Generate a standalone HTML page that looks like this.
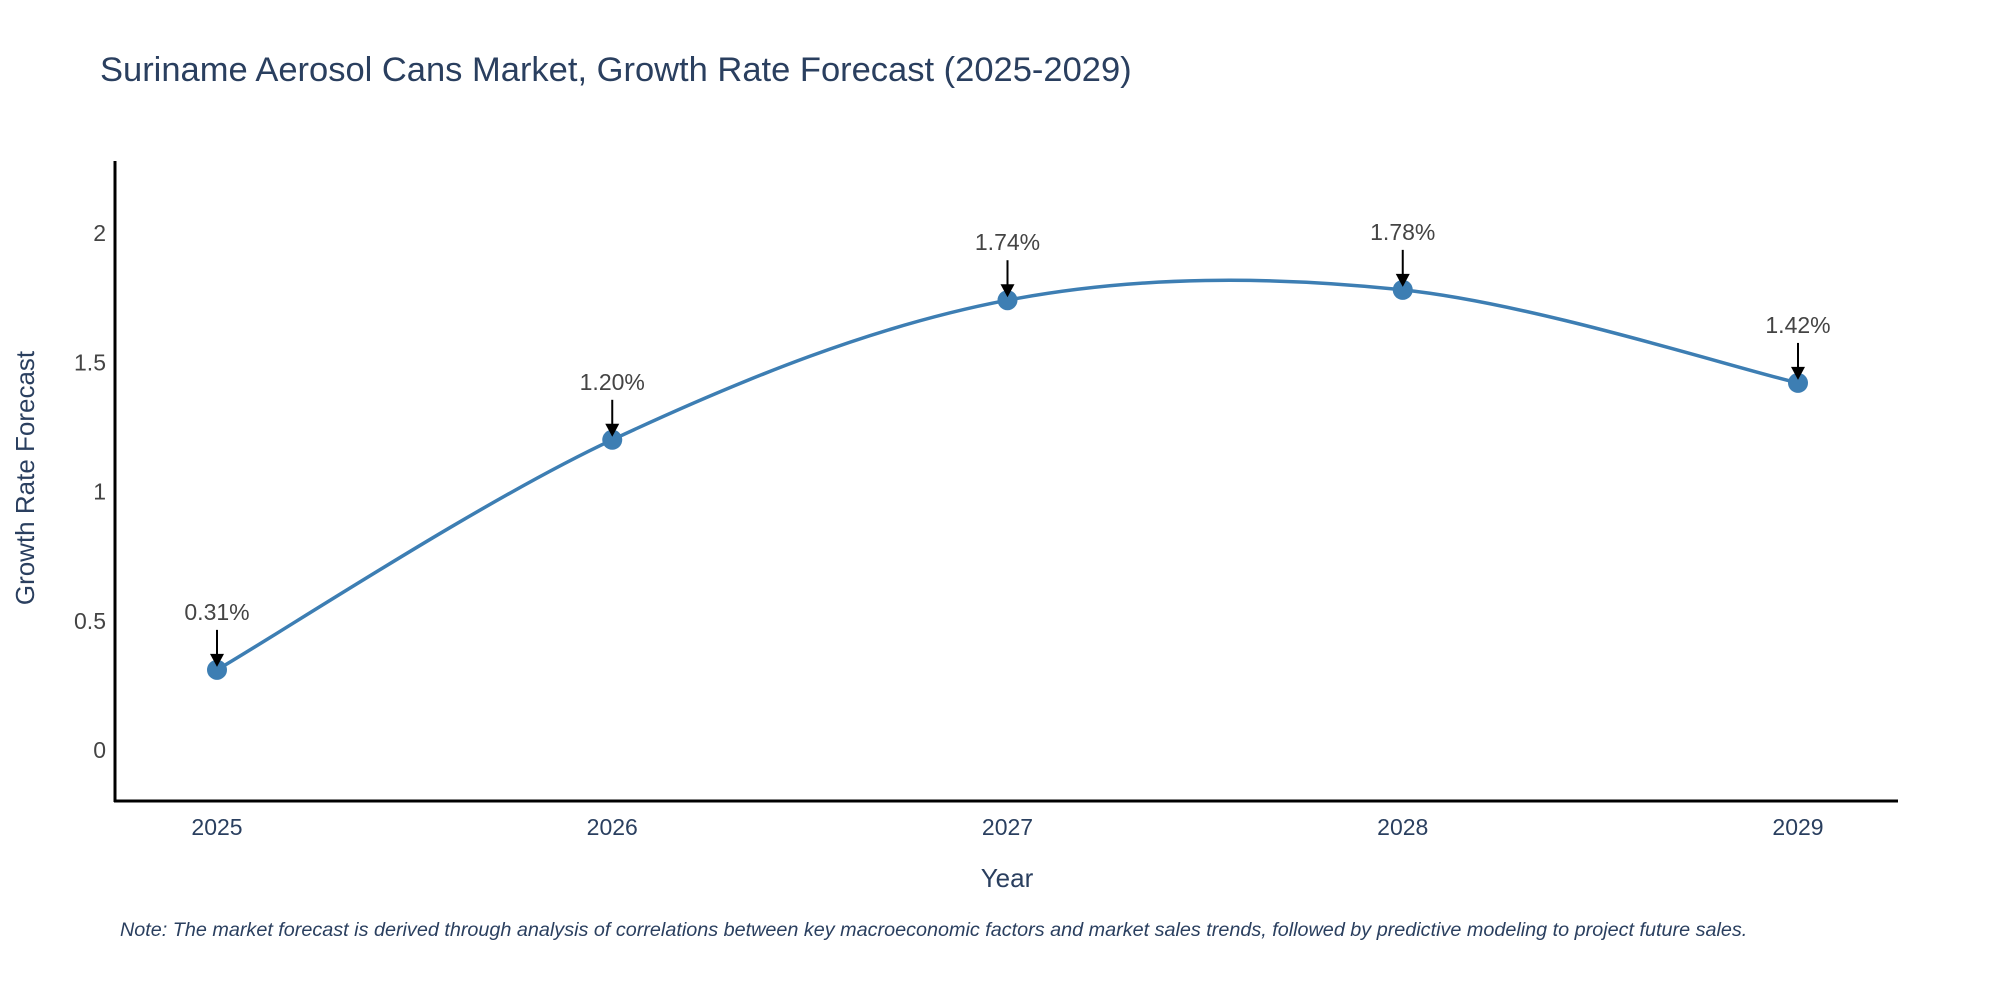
<!DOCTYPE html>
<html><head><meta charset="utf-8"><style>
body{margin:0;background:#fff;width:2000px;height:1000px;overflow:hidden;font-family:"Liberation Sans",sans-serif}
</style></head><body>
<svg id="chart" width="2000" height="1000" xmlns="http://www.w3.org/2000/svg">
<text x="100" y="81" font-size="34.5" fill="#2a3f5f">Suriname Aerosol Cans Market, Growth Rate Forecast (2025-2029)</text>
<g id="yticks"></g>
<g id="xticks"></g>
<line x1="115" y1="161" x2="115" y2="802" stroke="#000" stroke-width="3"/>
<line x1="114" y1="801" x2="1898" y2="801" stroke="#000" stroke-width="3"/>
<path id="line" fill="none" stroke="#3d7eb3" stroke-width="3.5"/>
<g id="points"></g>
<text transform="translate(34,478) rotate(-90)" text-anchor="middle" font-size="26" fill="#2a3f5f">Growth Rate Forecast</text>
<text x="1007" y="887" text-anchor="middle" font-size="26" fill="#2a3f5f">Year</text>
<text x="120" y="936" font-size="19.8" font-style="italic" fill="#2a3f5f">Note: The market forecast is derived through analysis of correlations between key macroeconomic factors and market sales trends, followed by predictive modeling to project future sales.</text>
</svg>
<script>
const years=["2025","2026","2027","2028","2029"];
const values=[0.31,1.20,1.74,1.78,1.42];
const labels=["0.31%","1.20%","1.74%","1.78%","1.42%"];
const yTicks=[0,0.5,1,1.5,2];
const yTickLabels=["0","0.5","1","1.5","2"];
const NS="http://www.w3.org/2000/svg";
const xs=i=>217+i*(1798-217)/(years.length-1);
const ys=v=>750-v*258.5;
function mk(t,a,p){const e=document.createElementNS(NS,t);for(const k in a)e.setAttribute(k,a[k]);p.appendChild(e);return e;}
const yt=document.getElementById('yticks');
yTicks.forEach((v,i)=>{const t=mk('text',{x:106,y:ys(v)+8,'text-anchor':'end','font-size':23,fill:'#444'},yt);


t.textContent=yTickLabels[i];});
const xt=document.getElementById('xticks');
years.forEach((y,i)=>{const t=mk('text',{x:xs(i),y:835,'text-anchor':'middle','font-size':23,fill:'#2a3f5f'},xt);


t.textContent=y;});
const P=values.map((v,i)=>[xs(i),ys(v)]);
let d=`M${P[0][0]},${P[0][1]}`;
for(let i=0;i<P.length-1;i++){const p0=P[i-1]||P[i],p1=P[i],p2=P[i+1],p3=P[i+2]||P[i+1];
const c1=[p1[0]+(p2[0]-p0[0])/6,p1[1]+(p2[1]-p0[1])/6];
const c2=[p2[0]-(p3[0]-p1[0])/6,p2[1]-(p3[1]-p1[1])/6];
d+=` C${c1[0]},${c1[1]} ${c2[0]},${c2[1]} ${p2[0]},${p2[1]}`;}
document.getElementById('line').setAttribute('d',d);
const pts=document.getElementById('points');
P.forEach((p,i)=>{
const c=mk('circle',{cx:p[0],cy:p[1],r:10,fill:'#3d7eb3'},pts);


const l=mk('line',{x1:p[0],y1:p[1]-40,x2:p[0],y2:p[1]-14,stroke:'#000','stroke-width':2},pts);


const a=mk('polygon',{points:`${p[0]-7},${p[1]-16} ${p[0]+7},${p[1]-16} ${p[0]},${p[1]-3}`,fill:'#000'},pts);


const t=mk('text',{x:p[0],y:p[1]-50,'text-anchor':'middle','font-size':23,fill:'#444'},pts);


t.textContent=labels[i];});
</script>
</body></html>
